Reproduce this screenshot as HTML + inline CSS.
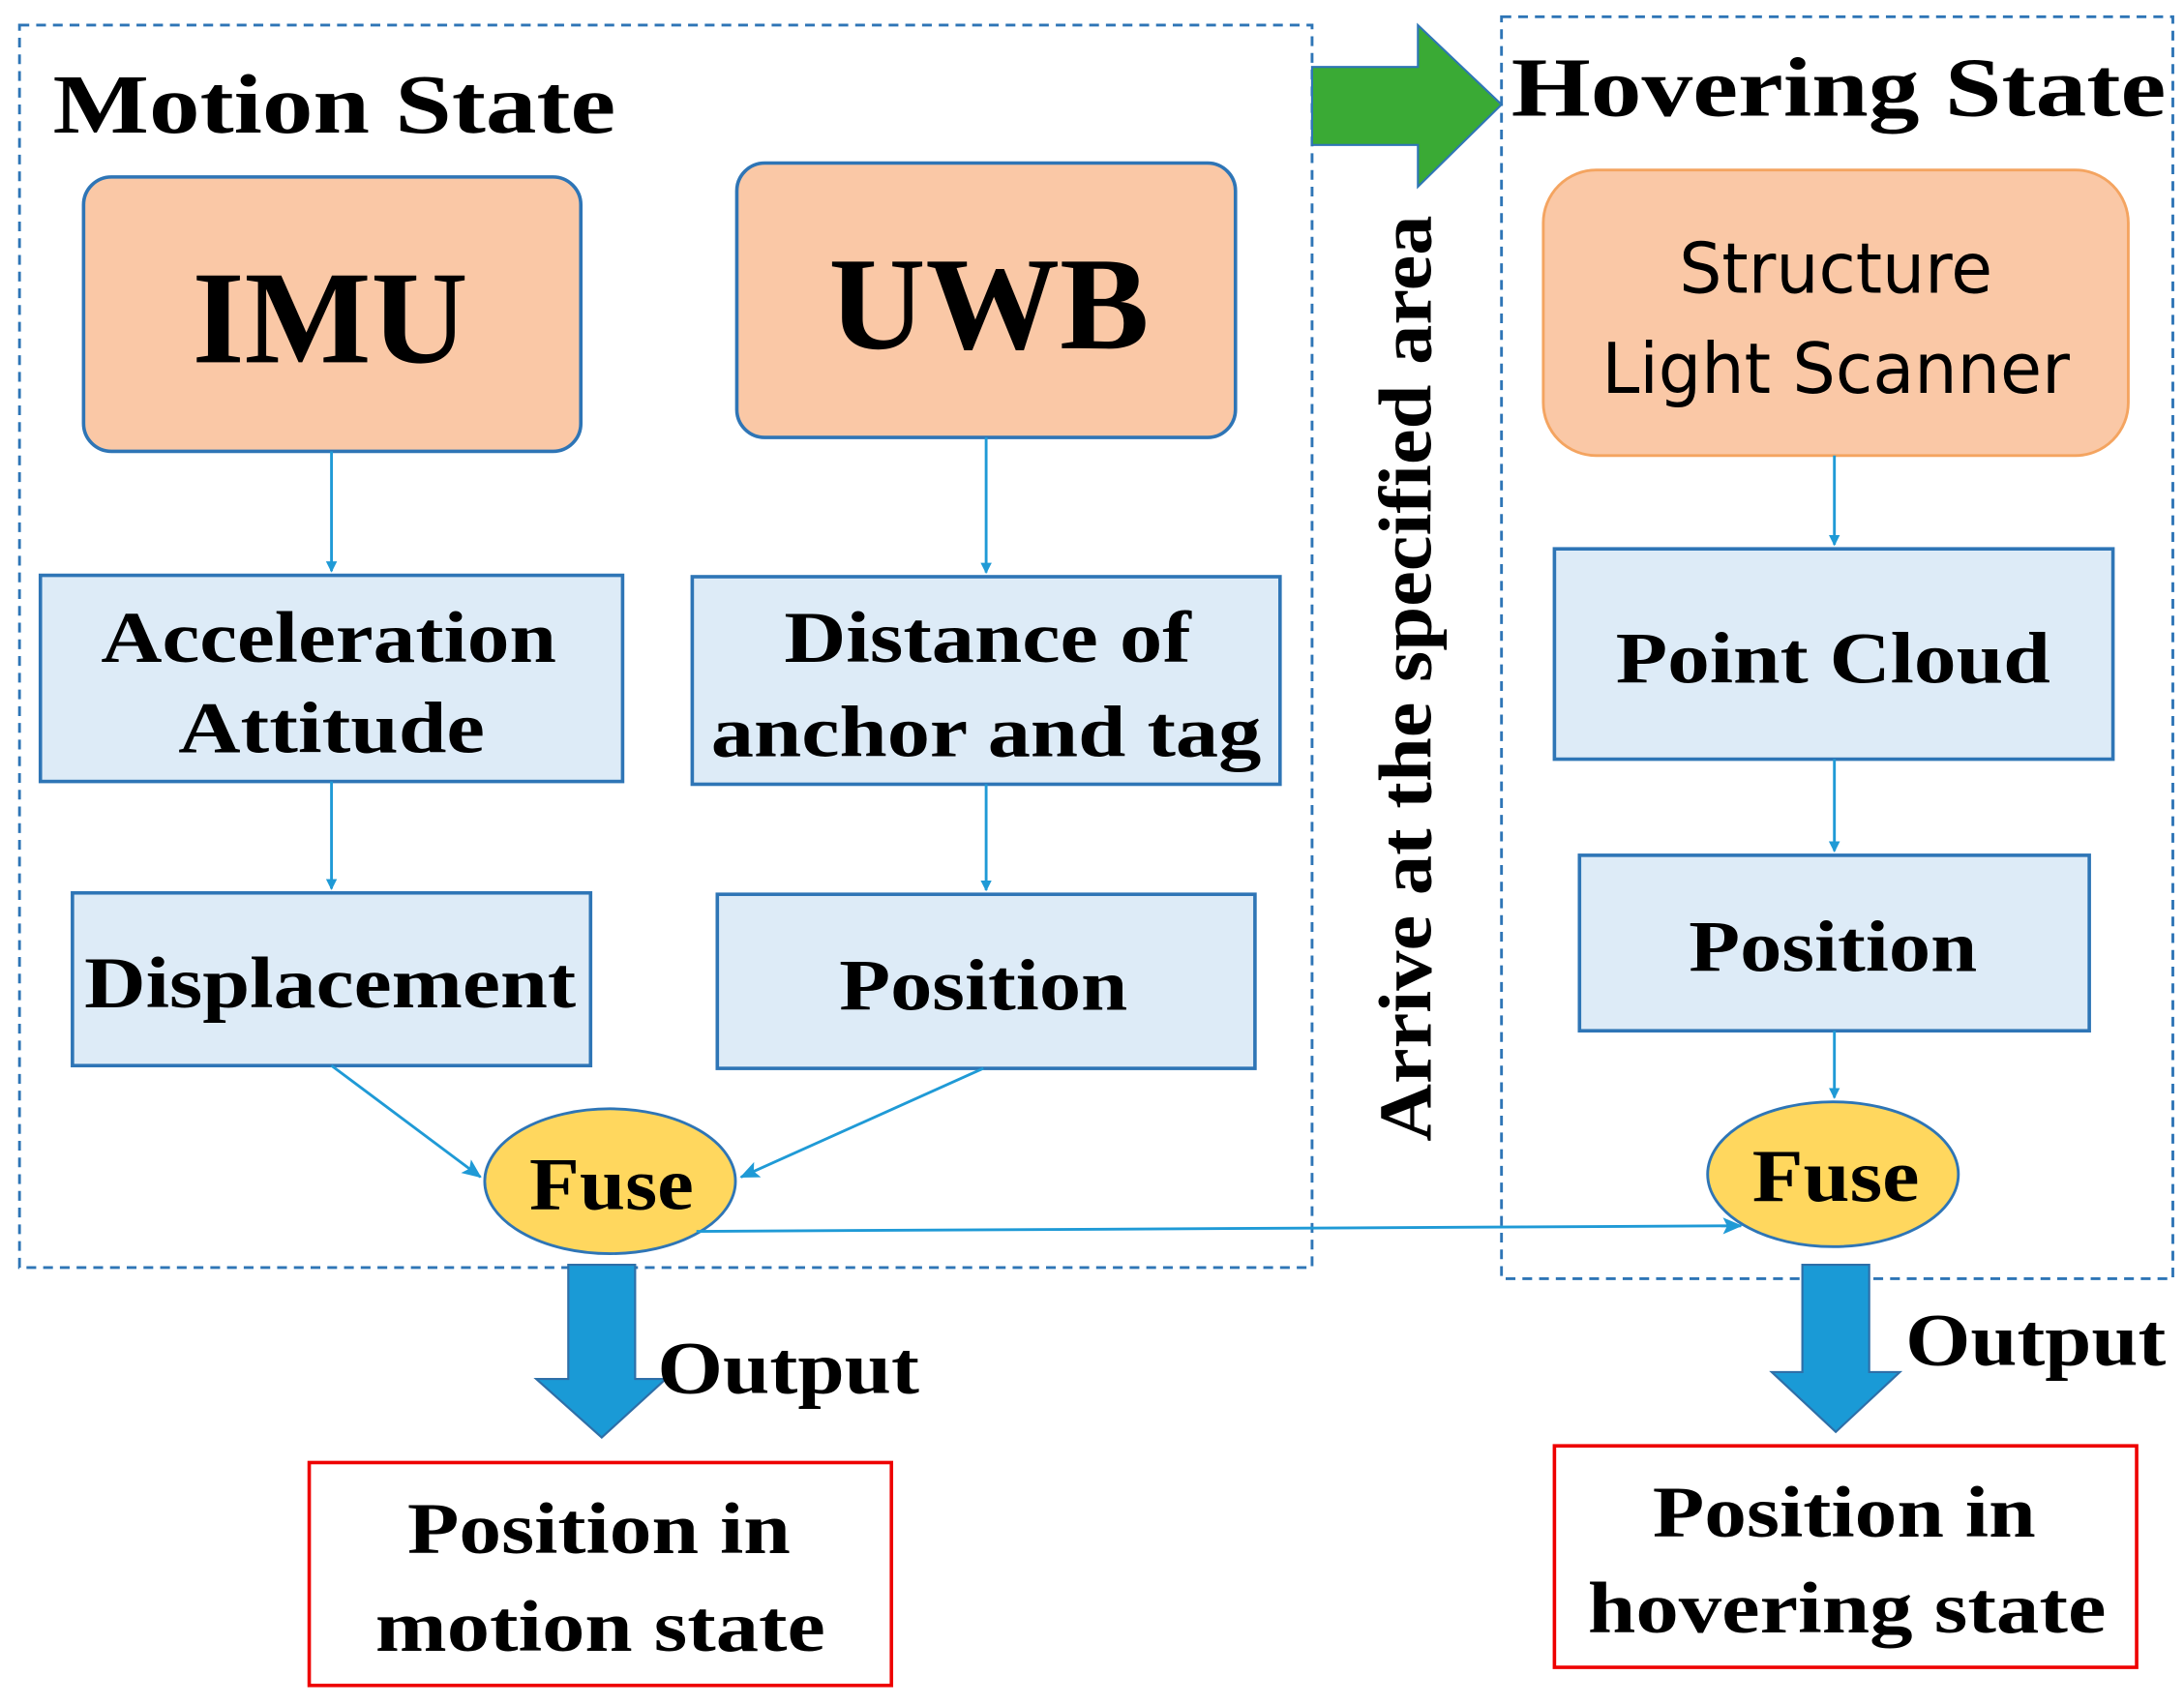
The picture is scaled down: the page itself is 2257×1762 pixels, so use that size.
<!DOCTYPE html>
<html><head><meta charset="utf-8"><style>html,body{margin:0;padding:0;background:#fff}svg{display:block}</style></head>
<body>
<svg width="2257" height="1762" viewBox="0 0 1568 1224" xmlns="http://www.w3.org/2000/svg">
<defs>
<marker id="a" markerWidth="8" markerHeight="8" refX="7" refY="4" orient="auto" markerUnits="userSpaceOnUse"><path d="M0,0 L8,4 L0,8 Z" fill="#1f9ad6"/></marker>
<marker id="b" markerWidth="14" markerHeight="12" refX="13" refY="6" orient="auto" markerUnits="userSpaceOnUse"><path d="M0,0 L14,6 L0,12 L3,6 Z" fill="#1f9ad6"/></marker>
</defs>
<g fill="none" stroke="#2e75b6" stroke-width="2" stroke-dasharray="7,5">
<rect x="14" y="18" width="928" height="892"/>
<rect x="1078" y="12" width="482" height="906"/>
</g>
<path d="M942,48 H1018 V18 L1078,75 L1018,134 V104 H942 Z" fill="#3aaa35" stroke="#2e75b6" stroke-width="1.5"/>
<g font-family="Liberation Serif, serif" font-weight="bold" fill="#000" lengthAdjust="spacingAndGlyphs">
<text x="38" y="95" font-size="60" textLength="404" lengthAdjust="spacingAndGlyphs">Motion State</text>
<text x="1085" y="83" font-size="60" textLength="470" lengthAdjust="spacingAndGlyphs">Hovering State</text>
</g>
<g stroke="#2e75b6" stroke-width="2.5">
<rect x="60" y="127" width="357" height="197" rx="20" fill="#fac8a6"/>
<rect x="529" y="117" width="358" height="197" rx="20" fill="#fac8a6"/>
</g>
<rect x="1108" y="122" width="420" height="205" rx="38" fill="#fac8a6" stroke="#f4a460" stroke-width="2"/>
<g fill="#ddebf7" stroke="#2e75b6" stroke-width="2.5">
<rect x="29" y="413" width="418" height="148"/>
<rect x="497" y="414" width="422" height="149"/>
<rect x="52" y="641" width="372" height="124"/>
<rect x="515" y="642" width="386" height="125"/>
<rect x="1116" y="394" width="401" height="151"/>
<rect x="1134" y="614" width="366" height="126"/>
</g>
<g fill="#ffd75e" stroke="#2e75b6" stroke-width="2">
<ellipse cx="438" cy="848" rx="90" ry="52"/>
<ellipse cx="1316" cy="843" rx="90" ry="52"/>
</g>
<g stroke="#1f9ad6" stroke-width="2" fill="none">
<line x1="238" y1="324" x2="238" y2="410" marker-end="url(#a)"/>
<line x1="238" y1="561" x2="238" y2="638" marker-end="url(#a)"/>
<line x1="708" y1="314" x2="708" y2="411" marker-end="url(#a)"/>
<line x1="708" y1="563" x2="708" y2="639" marker-end="url(#a)"/>
<line x1="238" y1="765" x2="345" y2="845" marker-end="url(#b)"/>
<line x1="706" y1="767" x2="532" y2="845" marker-end="url(#b)"/>
<line x1="1317" y1="327" x2="1317" y2="391" marker-end="url(#a)"/>
<line x1="1317" y1="545" x2="1317" y2="611" marker-end="url(#a)"/>
<line x1="1317" y1="740" x2="1317" y2="788" marker-end="url(#a)"/>
<line x1="500" y1="884" x2="1250" y2="880" marker-end="url(#b)"/>
</g>
<g fill="#1a9ad6" stroke="#2e6fa8" stroke-width="1.5">
<path d="M408,908 H456 V990 H478 L432,1032 L385,990 H408 Z"/>
<path d="M1294,908 H1342 V985 H1364 L1318,1028 L1272,985 H1294 Z"/>
</g>
<g fill="none" stroke="#e00" stroke-width="2.5">
<rect x="222" y="1050" width="418" height="160"/>
<rect x="1116" y="1038" width="418" height="159"/>
</g>
<g font-family="Liberation Serif, serif" font-weight="bold" fill="#000" text-anchor="middle">
<text x="237" y="260" font-size="95" textLength="198" lengthAdjust="spacingAndGlyphs">IMU</text>
<text x="710" y="250" font-size="95" textLength="230" lengthAdjust="spacingAndGlyphs">UWB</text>
<text x="236" y="475" font-size="52" textLength="327" lengthAdjust="spacingAndGlyphs">Acceleration</text>
<text x="238" y="540" font-size="52" textLength="220" lengthAdjust="spacingAndGlyphs">Attitude</text>
<text x="709" y="475" font-size="52" textLength="292" lengthAdjust="spacingAndGlyphs">Distance of</text>
<text x="708" y="543" font-size="52" textLength="395" lengthAdjust="spacingAndGlyphs">anchor and tag</text>
<text x="237" y="723" font-size="52" textLength="353" lengthAdjust="spacingAndGlyphs">Displacement</text>
<text x="706" y="725" font-size="52" textLength="207" lengthAdjust="spacingAndGlyphs">Position</text>
<text x="1316" y="490" font-size="52" textLength="312" lengthAdjust="spacingAndGlyphs">Point Cloud</text>
<text x="1316" y="697" font-size="52" textLength="207" lengthAdjust="spacingAndGlyphs">Position</text>
<text x="439" y="868" font-size="54" textLength="118" lengthAdjust="spacingAndGlyphs">Fuse</text>
<text x="1318" y="862" font-size="54" textLength="120" lengthAdjust="spacingAndGlyphs">Fuse</text>
<text x="430" y="1115" font-size="52" textLength="275" lengthAdjust="spacingAndGlyphs">Position in</text>
<text x="431" y="1185" font-size="52" textLength="323" lengthAdjust="spacingAndGlyphs">motion state</text>
<text x="1324" y="1103" font-size="52" textLength="275" lengthAdjust="spacingAndGlyphs">Position in</text>
<text x="1326" y="1172" font-size="52" textLength="372" lengthAdjust="spacingAndGlyphs">hovering state</text>
<text transform="translate(1027,487) rotate(-90)" font-size="54" textLength="665" lengthAdjust="spacingAndGlyphs">Arrive at the specified area</text>
</g>
<g font-family="Liberation Serif, serif" font-weight="bold" fill="#000" font-size="54">
<text x="472" y="1000" textLength="188" lengthAdjust="spacingAndGlyphs">Output</text>
<text x="1368" y="980" textLength="187" lengthAdjust="spacingAndGlyphs">Output</text>
</g>
<g font-family="DejaVu Sans, Liberation Sans, sans-serif" fill="#000" font-size="50" text-anchor="middle">
<text x="1318" y="210" textLength="225" lengthAdjust="spacingAndGlyphs">Structure</text>
<text x="1318" y="282" textLength="336" lengthAdjust="spacingAndGlyphs">Light Scanner</text>
</g>
</svg>
</body></html>
